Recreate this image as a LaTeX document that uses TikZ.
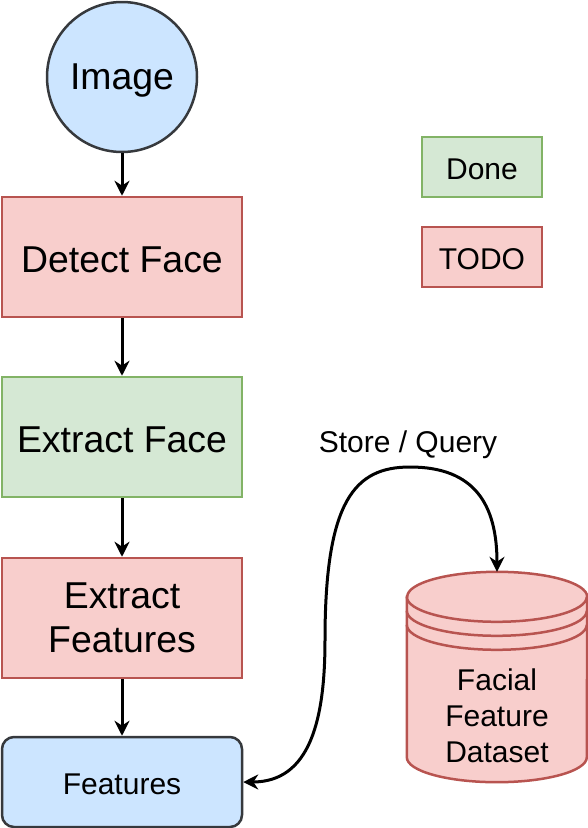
\documentclass[tikz,border=0pt]{standalone}
\usepackage{fontspec}
\setmainfont{Liberation Sans}
\usetikzlibrary{arrows.meta,positioning}
\definecolor{blfill}{HTML}{CCE5FF}
\definecolor{bldraw}{HTML}{36393D}
\definecolor{rdfill}{HTML}{F8CECC}
\definecolor{rddraw}{HTML}{B85450}
\definecolor{grfill}{HTML}{D5E8D4}
\definecolor{grdraw}{HTML}{82B366}
\tikzset{
	bigtext/.style={font=\fontsize{37.4}{44.5}\selectfont},
	smalltext/.style={font=\fontsize{30}{36}\selectfont},
	bigline/.style={text height=31.8pt,text depth=0pt},
	smallline/.style={text height=25.4pt,text depth=0pt},
	startvert/.style={circle,draw=bldraw,fill=blfill,line width=2.5pt,inner sep=0,minimum size=150,bigtext,text height=25pt,text depth=0pt},
	todobox/.style={rectangle,draw=rddraw,fill=rdfill,line width=2.5pt,inner sep=0,minimum width=240,minimum height=120,align=center,bigtext},
	donebox/.style={rectangle,draw=grdraw,fill=grfill,line width=2.5pt,inner sep=0,minimum width=240,minimum height=120,align=center,bigtext},
	featbox/.style={rectangle,rounded corners=12pt,draw=bldraw,fill=blfill,line width=2.5pt,inner sep=0,minimum width=240,minimum height=90,smalltext,smallline},
	legend/.style={rectangle,line width=2.5pt,inner sep=0,minimum width=120,minimum height=60,smalltext,smallline},
	dbwall/.style={draw=rddraw,fill=rdfill,line width=2.5pt},
	diredge/.style={->,>={Stealth[width=15pt,length=15pt]},color=black,line width=3pt},
	diredge2/.style={<->,>={Stealth[width=15pt,length=15pt]},color=black,line width=3pt}
}
\begin{document}
\begin{tikzpicture}[x=1pt,y=-1pt]
\useasboundingbox (0,0) rectangle (588,828);
%%%% pipeline
\node[startvert] (img) at (122,77) {Image};
\node[todobox,bigline] (detect) at (122,257) {Detect Face};
\node[donebox,bigline] (extface) at (122,437) {Extract Face};
\node[todobox] (extfeat) at (122,618) {Extract\\Features};
\node[featbox] (feat) at (122,782) {Features};
\draw (img) edge[diredge] (detect) (detect) edge[diredge] (extface)
	(extface) edge[diredge] (extfeat) (extfeat) edge[diredge] (feat);

%%%% legend
\node[legend,draw=grdraw,fill=grfill] (done) at (482,167) {Done};
\node[legend,draw=rddraw,fill=rdfill] (todo) at (482,257) {TODO};

%%%% dataset
\node[inner sep=0,minimum width=180,minimum height=210] (db) at (497,677) {};
\draw[dbwall] ([yshift=-25pt]db.north west) -- ([yshift=25pt]db.south west)
	arc[start angle=180,end angle=360,x radius=90pt,y radius=25pt]
	-- ([yshift=-25pt]db.north east)
	arc[start angle=0,end angle=180,x radius=90pt,y radius=25pt] -- cycle;
\draw[dbwall,fill=none] ([yshift=-25pt]db.north west) arc[start angle=180,end angle=360,x radius=90pt,y radius=25pt];
\draw[dbwall,fill=none] ([yshift=-39pt]db.north west) arc[start angle=180,end angle=360,x radius=90pt,y radius=25pt];
\draw[dbwall,fill=none] ([yshift=-53pt]db.north west) arc[start angle=180,end angle=360,x radius=90pt,y radius=25pt];
\node[smalltext,align=center] (dblabel) at (497,716) {Facial\\Feature\\Dataset};

%%%% store / query
\draw[diredge2] (feat.east) .. controls (310,782) and (325,720) .. (325,640)
	.. controls (325,500) and (355,467) .. (410,467)
	.. controls (475,467) and (497,505) .. (db.north);
\node[smalltext,smallline] (sq) at (408,440) {Store / Query};
\end{tikzpicture}
\end{document}
